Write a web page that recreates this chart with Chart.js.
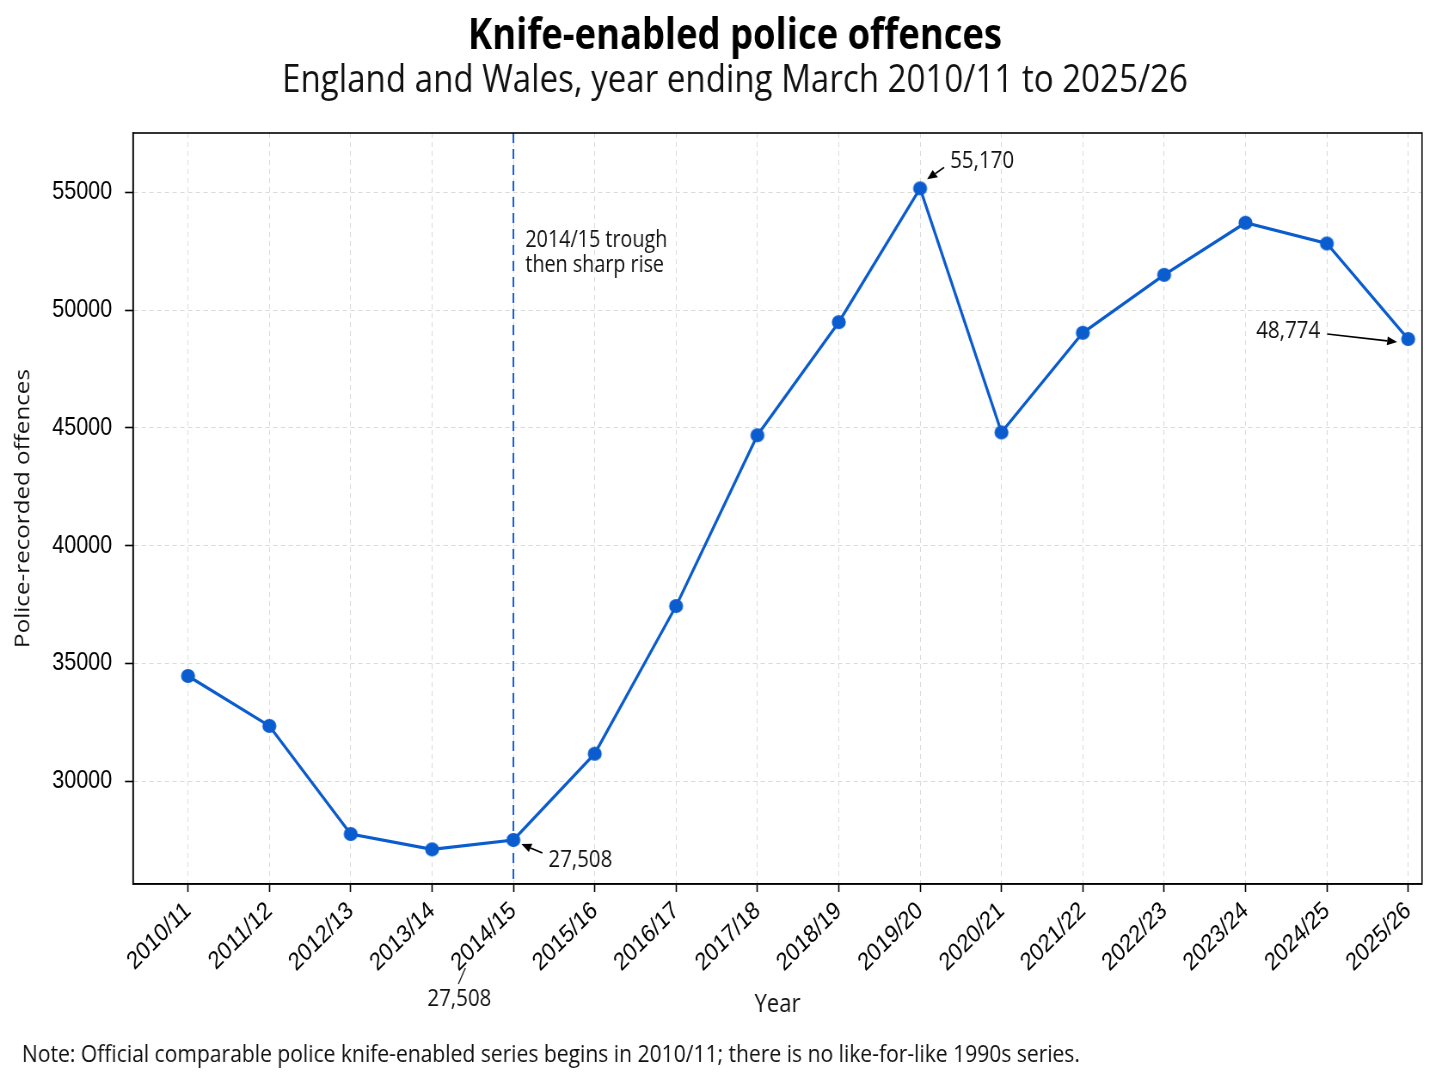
<!DOCTYPE html>
<html>
<head>
<meta charset="utf-8">
<script src="https://cdn.jsdelivr.net/npm/chart.js@4.4.1/dist/chart.umd.min.js"></script>
<style>
html,body{margin:0;padding:0;background:#fff;overflow:hidden}
#c{display:block}
</style>
</head>
<body>
<canvas id="c" width="1684" height="1086" style="width:1448px;height:1086px"></canvas>
<script>
// ---------------- data ----------------
const years = ['2010/11','2011/12','2012/13','2013/14','2014/15','2015/16','2016/17','2017/18',
               '2018/19','2019/20','2020/21','2021/22','2022/23','2023/24','2024/25','2025/26'];
const offences = [34470, 32350, 27760, 27110, 27508, 31170, 37440, 44690,
                  49490, 55170, 44810, 49040, 51500, 53710, 52830, 48774];
const yTickValues = [30000, 35000, 40000, 45000, 50000, 55000];
const troughYear = '2014/15';
const peakYear = '2019/20';
const latestYear = '2025/26';

const titleText = 'Knife-enabled police offences';
const subtitleText = 'England and Wales, year ending March 2010/11 to 2025/26';
const yTitle = 'Police-recorded offences';
const xTitle = 'Year';
const noteText = 'Note: Official comparable police knife-enabled series begins in 2010/11; there is no like-for-like 1990s series.';
const troughNote = ['2014/15 trough', 'then sharp rise'];

// ---------------- styling ----------------
const W = 1684, H = 1086;
const SX = 1448 / W;               // horizontal condensing of the whole picture
const FONT = "'Open Sans', 'Noto Sans', sans-serif";
const TICKFONT = "'Liberation Sans', Arial, sans-serif";
const LINE = '#0a5ccf';
const GRID = '#dadada';

const mctx = document.createElement('canvas').getContext('2d');
function fit(text, weight, family, displayWidth, squeezed = true) {
  mctx.font = weight + ' 100px ' + family;
  const w = mctx.measureText(text).width;
  const target = squeezed ? displayWidth / SX : displayWidth;
  return 100 * target / w;
}
const titleSize = fit(titleText, 'bold', FONT, 534);
const subSize = fit(subtitleText, 'normal', FONT, 906);
const yTitleSize = fit(yTitle, 'normal', FONT, 279, false);
const xTitleSize = fit(xTitle, 'normal', FONT, 46);
const noteSize = fit(noteText, 'normal', FONT, 1058);
const numSize = fit('55,170', 'normal', FONT, 64);
const troughSize = fit(troughNote[0], 'normal', FONT, 142);

// layout (display coordinates)
const plotLeft = 133, plotRight = 1422, plotTop = 133, plotBottom = 884;
const titleMid = 37, subMid = 81;
const padLeft = 48 / SX;           // shifts the title block centre to the right
const tLH = titleSize * 1.2, sLH = subSize * 1.2;
const tPadTop = titleMid - tLH / 2;
const sPadTop = (subMid - sLH / 2) - (tPadTop + tLH);
const sPadBottom = plotTop - (subMid + sLH / 2);

// round marker that stays round after the horizontal condensing
const R = 7;
const marker = document.createElement('canvas');
marker.width = Math.ceil(2 * R / SX) + 2;
marker.height = 2 * R + 2;
(function () {
  const p = marker.getContext('2d');
  p.fillStyle = LINE;
  p.beginPath();
  p.ellipse(marker.width / 2, marker.height / 2, R / SX, R, 0, 0, Math.PI * 2);
  p.fill();
})();

function arrow(ctx, x1, y1, x2, y2) {
  ctx.save();
  ctx.scale(1 / SX, 1);
  ctx.strokeStyle = '#000';
  ctx.fillStyle = '#000';
  ctx.lineWidth = 1.6;
  const a = Math.atan2(y2 - y1, x2 - x1);
  const hl = 10, hw = 4.5;
  const bx = x2 - hl * Math.cos(a), by = y2 - hl * Math.sin(a);
  ctx.beginPath(); ctx.moveTo(x1, y1); ctx.lineTo(bx, by); ctx.stroke();
  ctx.beginPath();
  ctx.moveTo(x2, y2);
  ctx.lineTo(bx + hw * Math.sin(a), by - hw * Math.cos(a));
  ctx.lineTo(bx - hw * Math.sin(a), by + hw * Math.cos(a));
  ctx.closePath(); ctx.fill();
  ctx.restore();
}
function text(ctx, str, dx, dy, size, align, weight) {
  ctx.save();
  ctx.font = (weight || 'normal') + ' ' + size + 'px ' + FONT;
  ctx.fillStyle = '#111';
  ctx.textAlign = align;
  ctx.textBaseline = 'middle';
  ctx.fillText(str, dx / SX, dy);
  ctx.restore();
}
const fmt = v => v.toLocaleString('en-GB');

const decor = {
  id: 'decor',
  beforeDatasetsDraw(chart) {
    const {ctx, chartArea: ca, scales: {x}} = chart;
    const tx = x.getPixelForValue(years.indexOf(troughYear));
    ctx.save();
    ctx.strokeStyle = '#1a5fd8';
    ctx.lineWidth = 2;
    ctx.setLineDash([10, 6]);
    ctx.beginPath(); ctx.moveTo(tx, ca.top); ctx.lineTo(tx, ca.bottom); ctx.stroke();
    ctx.restore();
    ctx.save();
    ctx.strokeStyle = '#000';
    ctx.lineWidth = 1.6;
    ctx.strokeRect(ca.left, ca.top, ca.right - ca.left, ca.bottom - ca.top);
    ctx.restore();
  },
  afterDatasetsDraw(chart) {
    const {ctx, chartArea: ca, scales: {x, y}} = chart;
    const P = i => ({X: x.getPixelForValue(i) * SX, Y: y.getPixelForValue(offences[i])});

    const ip = years.indexOf(peakYear), p = P(ip);
    arrow(ctx, p.X + 24, p.Y - 21, p.X + 7, p.Y - 9);
    text(ctx, fmt(offences[ip]), p.X + 30, p.Y - 27, numSize, 'left');

    const il = years.indexOf(latestYear), l = P(il);
    arrow(ctx, l.X - 81, l.Y - 5, l.X - 11, l.Y + 3);
    text(ctx, fmt(offences[il]), l.X - 88, l.Y - 8, numSize, 'right');

    const it = years.indexOf(troughYear), t = P(it);
    arrow(ctx, t.X + 29, t.Y + 13, t.X + 8, t.Y + 4);
    text(ctx, fmt(offences[it]), t.X + 35, t.Y + 20, numSize, 'left');

    text(ctx, troughNote[0], t.X + 12, ca.top + 107, troughSize, 'left');
    text(ctx, troughNote[1], t.X + 12, ca.top + 132, troughSize, 'left');

    ctx.save();
    ctx.scale(1 / SX, 1);
    ctx.strokeStyle = '#222'; ctx.lineWidth = 1.2;
    ctx.beginPath(); ctx.moveTo(t.X - 48, ca.bottom + 84); ctx.lineTo(t.X - 55, ca.bottom + 100); ctx.stroke();
    ctx.restore();
    text(ctx, fmt(offences[it]), t.X - 54, ca.bottom + 115, numSize, 'center');
  },
  afterDraw(chart) {
    text(chart.ctx, noteText, 22, 1055, noteSize, 'left');
  }
};

new Chart(document.getElementById('c'), {
  type: 'line',
  data: {
    datasets: [{
      data: years.map((yr, i) => ({x: i, y: offences[i]})),
      borderColor: LINE,
      backgroundColor: LINE,
      borderWidth: 3.2,
      tension: 0,
      pointStyle: marker,
      pointRadius: R,
      fill: false
    }]
  },
  options: {
    responsive: false,
    devicePixelRatio: 1,
    animation: false,
    events: [],
    layout: {autoPadding: false, padding: {left: padLeft, right: W - plotRight / SX, top: 0, bottom: 0}},
    plugins: {
      legend: {display: false},
      tooltip: {enabled: false},
      title: {
        display: true, text: titleText, color: '#000',
        font: {family: FONT, size: titleSize, weight: 'bold', lineHeight: 1.2},
        padding: {top: tPadTop, bottom: 0}
      },
      subtitle: {
        display: true, text: subtitleText, color: '#111',
        font: {family: FONT, size: subSize, weight: 'normal', lineHeight: 1.2},
        padding: {top: sPadTop, bottom: sPadBottom}
      }
    },
    scales: {
      x: {
        type: 'linear',
        position: 'bottom',
        min: -0.676,
        max: 15.17,
        afterBuildTicks: s => { s.ticks = years.map((_, i) => ({value: i})); },
        afterFit: s => { s.height = H - plotBottom; },
        ticks: {
          autoSkip: false, minRotation: 41, maxRotation: 41, padding: 4,
          color: '#000', font: {family: TICKFONT, size: 25},
          callback: v => years[Math.round(v)]
        },
        grid: {color: GRID, lineWidth: 1, tickLength: 8, tickColor: '#000', tickWidth: 1.6, tickBorderDash: [], borderDash: [5, 4]},
        border: {display: true, color: '#000', width: 1.6, dash: [5, 4]},
        title: {
          display: true, text: xTitle, color: '#111',
          font: {family: FONT, size: xTitleSize, lineHeight: 1.2},
          padding: {top: 0, bottom: H - 1005 - xTitleSize * 0.6}
        }
      },
      y: {
        type: 'linear',
        min: 25640,
        max: 57520,
        afterBuildTicks: s => { s.ticks = yTickValues.map(v => ({value: v})); },
        afterFit: s => { s.width = plotLeft / SX - padLeft; },
        ticks: {
          padding: 15, color: '#000', font: {family: TICKFONT, size: 25},
          callback: v => String(v)
        },
        grid: {color: GRID, lineWidth: 1, tickLength: 8 / SX, tickColor: '#000', tickWidth: 1.6, tickBorderDash: [], borderDash: [5, 4]},
        border: {display: true, color: '#000', width: 1.6, dash: [5, 4]},
        title: {
          display: true, text: yTitle, color: '#111',
          font: {family: FONT, size: yTitleSize, lineHeight: 1.2},
          padding: {top: 23 / SX - padLeft - yTitleSize * 0.6, bottom: 0}
        }
      }
    }
  },
  plugins: [decor]
});
</script>
</body>
</html>
